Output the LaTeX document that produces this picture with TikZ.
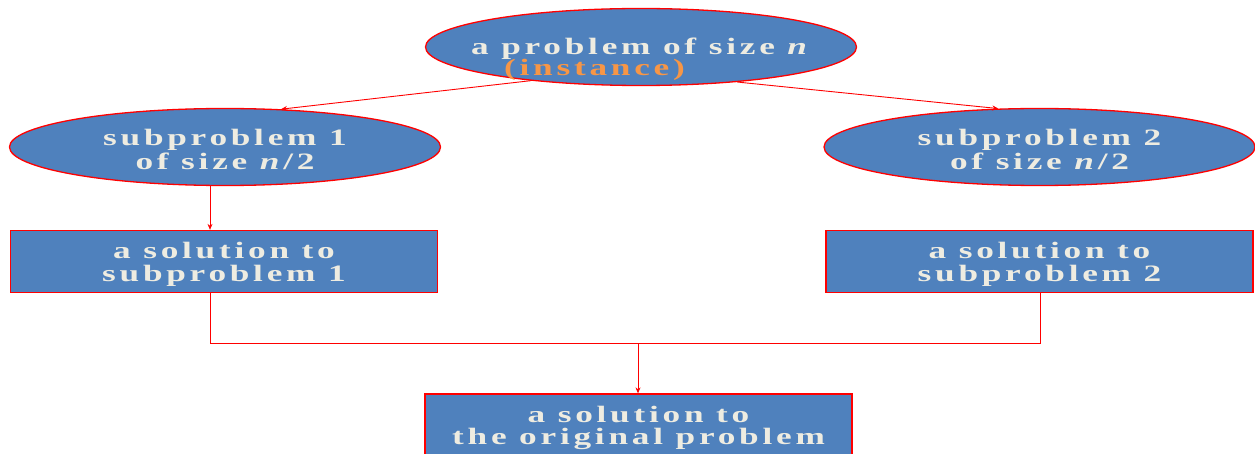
\documentclass[tikz,border=0pt]{standalone}
\usepackage{fontspec}
\setmainfont{Liberation Serif}
\newfontfamily\tfont[FakeStretch=1.5,LetterSpace=16]{Liberation Serif}
\usetikzlibrary{shapes.geometric,arrows.meta}
\definecolor{boxblue}{HTML}{4F81BD}
\definecolor{txtcream}{HTML}{EEECE1}
\definecolor{orng}{HTML}{F79646}
\definecolor{lred}{HTML}{FF0000}
\newcommand{\placetext}[3]{\makebox[0pt]{\raisebox{#1}[0pt][0pt]{\begin{tabular}{@{}#2@{}}#3\end{tabular}}}}
\tikzset{
  base/.style={fill=boxblue,draw=lred,line width=1.3pt,inner sep=0pt,align=center,
    text=txtcream,font=\tfont\bfseries\fontsize{23.5}{23.5}\selectfont},
  oval/.style={base,ellipse,minimum width=431pt,minimum height=77pt},
  rbox/.style={base,rectangle,minimum width=427pt,minimum height=62pt},
  link/.style={draw=lred,line width=0.9pt},
  arr/.style={link,-{Stealth[length=6pt,width=5pt]}}
}
\begin{document}
\begin{tikzpicture}[x=1pt,y=-1pt]
\useasboundingbox (0,0) rectangle (1255,454);
\node[oval] (top) at (641,47) {\placetext{-19.5pt}{l}{a problem of size \textit{n}\\[-2pt]\hspace*{33pt}\textcolor{orng}{(instance)}}};
\node[oval] (sub1) at (225,147) {\placetext{-12pt}{c}{subproblem 1\\of size \textit{n}/2}};
\node[oval] (sub2) at (1039.5,147) {\placetext{-12pt}{c}{subproblem 2\\of size \textit{n}/2}};
\node[rbox] (sol1) at (224,261.5) {\placetext{-10pt}{c}{a solution to\\subproblem 1}};
\node[rbox] (sol2) at (1039.5,261.5) {\placetext{-10pt}{c}{a solution to\\subproblem 2}};
\node[rbox,minimum height=64pt] (fin) at (638.5,426) {\placetext{-9pt}{c}{a solution to\\[-2pt]the original problem}};
\coordinate (j1) at (210,343);
\coordinate (j2) at (1040,343);
\coordinate (j3) at (638,343);
\draw[arr] (top.197.5) -- (sub1.34);
\draw[arr] (top.340.5) -- (sub2.137.4);
\draw[arr] (sub1.south -| j1) -- (sol1.north -| j1);
\draw[link] (sol1.south -| j1) -- (j1) -- (j2) -- (sol2.south -| j2);
\draw[arr] (j3) -- (fin.north -| j3);
\end{tikzpicture}
\end{document}
